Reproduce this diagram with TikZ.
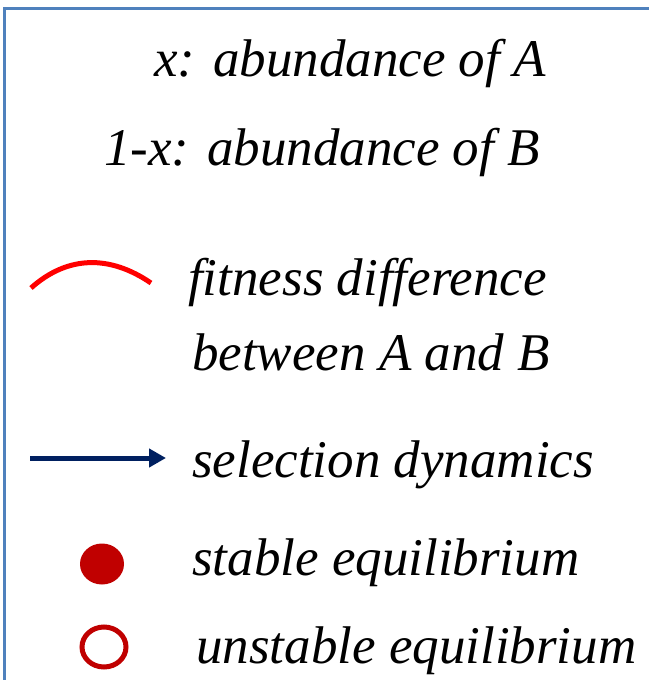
\documentclass[tikz,border=0pt]{standalone}
\usepackage{fontspec}
\setmainfont{Liberation Serif}
\usetikzlibrary{arrows.meta}

\definecolor{framecol}{HTML}{4F81BD}
\definecolor{fitred}{HTML}{FF0000}
\definecolor{dynblue}{HTML}{002060}
\definecolor{eqred}{HTML}{C00000}

\begin{document}
\begin{tikzpicture}[
  x=1pt, y=-1pt,
  txt/.style={
    anchor=base west,
    inner sep=0pt,
    font=\fontsize{53}{63}\selectfont\itshape
  },
  frame/.style={draw=framecol, line width=3pt},
  fitline/.style={draw=fitred, line width=5pt},
  dynline/.style={-{Triangle[length=17pt, width=18pt]}, draw=dynblue, line width=5pt},
  stablept/.style={fill=eqred},
  unstablept/.style={draw=eqred, line width=5pt}
]
\useasboundingbox (0,0) rectangle (649,680);

% Cadre
\draw[frame] (4,680) |- (649,8);

% Abondances
\node[txt] (absA) at (154,76) {x: abundance of A};
\node[txt] (absB) at (104,165) {1-x: abundance of B};

% Difference de fitness
\coordinate (fitL) at (31,288);
\coordinate (fitR) at (151,283);
\draw[fitline] (fitL) .. controls (68,255) and (110,255) .. (fitR);
\node[txt] (fit1) at (188,295) {fitness difference};
\node[txt] (fit2) at (192,370) {between A and B};

% Dynamique de selection
\coordinate (dynL) at (30,458);
\coordinate (dynR) at (166,458);
\draw[dynline] (dynL) -- (dynR);
\node[txt] (dyn) at (192,477) {selection dynamics};

% Equilibres
\fill[stablept] (102,564) ellipse [x radius=22, y radius=20.5];
\node[txt] (stab) at (192,575) {stable equilibrium};
\draw[unstablept] (104,647) ellipse [x radius=22, y radius=20];
\node[txt] (unstab) at (196,663) {unstable equilibrium};

\end{tikzpicture}
\end{document}
